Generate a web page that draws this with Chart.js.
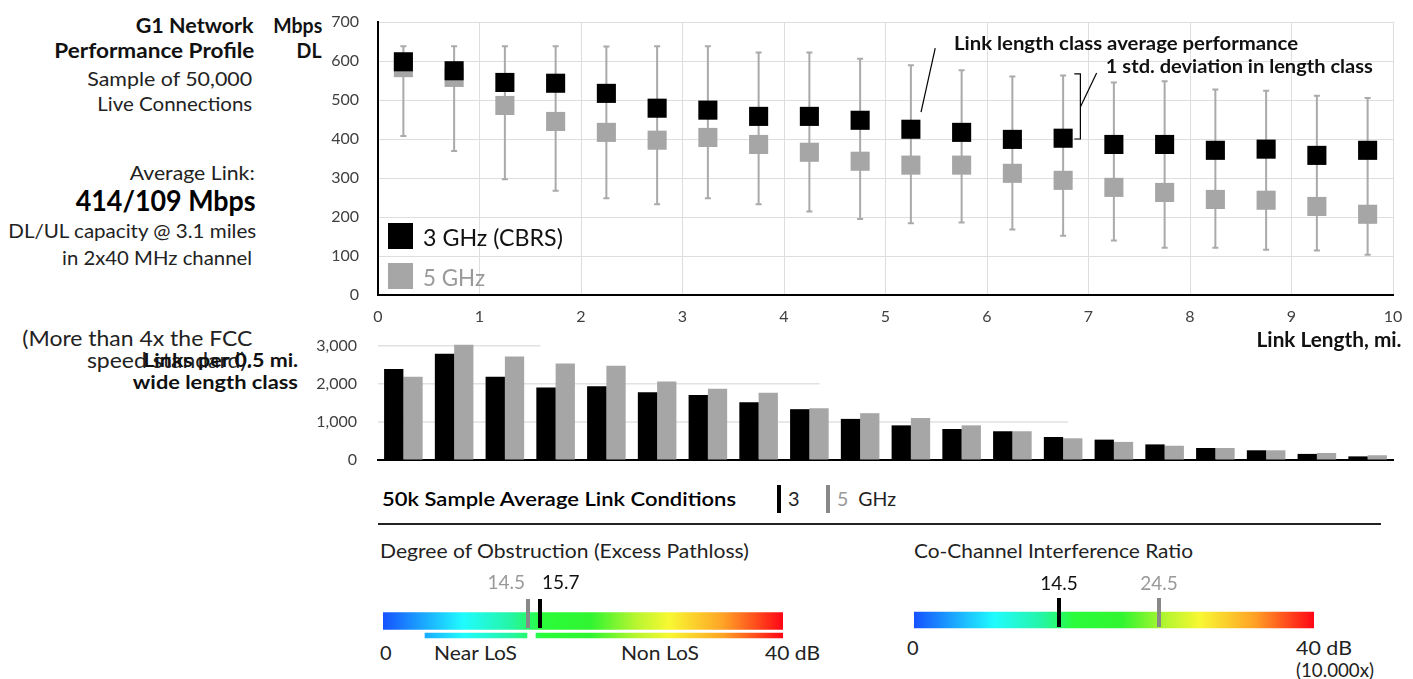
<!DOCTYPE html>
<html>
<head>
<meta charset="utf-8">
<script src="https://cdn.jsdelivr.net/npm/chart.js@4.4.1/dist/chart.umd.min.js"></script>
<style>
body{margin:0;width:1413px;height:679px;overflow:hidden;background:#fff;position:relative;
  font-family:Lato,sans-serif;font-weight:400;color:#222}
.t{position:absolute;white-space:nowrap;line-height:24px;font-size:20px}
.b{font-weight:bold;color:#111}
canvas{position:absolute}
.sq{position:absolute;width:25px;height:26px}
.bar{position:absolute;width:4px;height:28px}
</style>
</head>
<body>
<!-- left panel -->
<div class="t b" data-w="118" style="right:1159px;top:13px">G1 Network</div>
<div class="t b" data-w="200" style="right:1159px;top:38px">Performance Profile</div>
<div class="t" data-w="165" style="right:1161px;top:66px">Sample of 50,000</div>
<div class="t" data-w="155" style="right:1161px;top:91px">Live Connections</div>
<div class="t" data-w="125" style="right:1158px;top:160px">Average Link:</div>
<div class="t b" data-w="180" style="right:1157px;top:183px;font-size:28px;line-height:34px;color:#000">414/109 Mbps</div>
<div class="t" data-w="248" style="right:1157px;top:218px">DL/UL capacity @ 3.1 miles</div>
<div class="t" data-w="190" style="right:1161px;top:245px">in 2x40 MHz channel</div>
<div class="t" data-w="230" style="right:1161px;top:325px;font-size:22px;line-height:26px">(More than 4x the FCC</div>
<div class="t" data-w="165" style="right:1161px;top:347px;font-size:22px;line-height:26px">speed standard).</div>
<div class="t b" data-w="155" style="right:1115px;top:348px;font-size:19px">Links per 0.5 mi.</div>
<div class="t b" data-w="165" style="right:1115px;top:370px;font-size:19px">wide length class</div>
<div class="t b" data-w="49" style="right:1091px;top:13px">Mbps</div>
<div class="t b" data-w="25" style="right:1091px;top:38px">DL</div>

<canvas id="perf" width="1143" height="356" style="left:270px;top:0"></canvas>
<canvas id="links" width="1143" height="140" style="left:270px;top:330px"></canvas>
<div class="t b" data-w="145" style="right:11px;top:327px;font-size:20px">Link Length, mi.</div>

<!-- legend + notes -->
<div class="sq" style="left:388px;top:223px;background:#000"></div>
<div class="t" data-w="140" style="left:423px;top:224px;font-size:23px;line-height:26px;color:#111">3 GHz (CBRS)</div>
<div class="sq" style="left:388px;top:263px;background:#a6a6a6"></div>
<div class="t" data-w="62" style="left:423px;top:264px;font-size:23px;line-height:26px;color:#999">5 GHz</div>
<div class="t b" data-w="344" style="left:954px;top:31px;font-size:19px">Link length class average performance</div>
<div class="t b" data-w="267" style="right:40px;top:54px;font-size:19px">1 std. deviation in length class</div>

<!-- link conditions -->
<div class="t" data-w="354" style="left:382px;top:486px;color:#000;font-weight:600">50k Sample Average Link Conditions</div>
<div class="bar" style="left:777px;top:485px;background:#000"></div>
<div class="t" style="left:788px;top:486px">3</div>
<div class="bar" style="left:826px;top:485px;background:#888"></div>
<div class="t" data-w="59" style="left:837px;top:486px"><span style="color:#999">5</span>&nbsp;&nbsp;GHz</div>
<div style="position:absolute;left:378px;top:523px;width:1003px;height:2px;background:#222"></div>
<div class="t" data-w="369" style="left:380px;top:538px">Degree of Obstruction (Excess Pathloss)</div>
<div class="t" data-w="279" style="left:914px;top:538px">Co-Channel Interference Ratio</div>
<div class="t" style="left:380px;top:640px">0</div>
<div class="t" data-w="83" style="left:434px;top:640px">Near LoS</div>
<div class="t" data-w="78" style="left:621px;top:640px">Non LoS</div>
<div class="t" data-w="55" style="left:765px;top:640px">40 dB</div>
<div class="t" style="left:907px;top:635px">0</div>
<div class="t" data-w="56" style="left:1296px;top:635px">40 dB</div>
<div class="t" data-w="78" style="left:1296px;top:657px">(10.000x)</div>

<canvas id="obst" width="400" height="75" style="left:383px;top:570px"></canvas>
<canvas id="cci" width="400" height="75" style="left:914px;top:570px"></canvas>

<script>
const FONT = "Lato, sans-serif";
const CLEAR = 'rgba(0,0,0,0)';

// link length classes (centre of each 0.5 mi class)
const distances = [0.25,0.75,1.25,1.75,2.25,2.75,3.25,3.75,4.25,4.75,5.25,5.75,6.25,6.75,7.25,7.75,8.25,8.75,9.25,9.75];
// average DL throughput, Mbps
const dl3 = [598,575,545,543,517,479,474,458,458,448,425,417,399,402,386,386,371,374,358,371];
const dl5 = [583,558,486,445,417,397,404,386,366,343,333,333,312,294,276,263,245,243,227,207];
// 1 std. deviation range
const sdHigh = [638,638,638,638,637,638,638,622,622,606,589,576,560,563,545,548,527,524,511,505];
const sdLow = [408,369,297,267,248,233,248,233,214,195,184,186,168,152,140,121,121,116,114,103];
// links per class
const links3 = [2390,2790,2185,1905,1940,1780,1710,1520,1335,1080,910,815,755,605,535,410,315,255,160,95];
const links5 = [2185,3025,2720,2535,2475,2060,1870,1770,1360,1230,1105,910,755,570,475,375,315,255,185,125];
const linkTicks = [0,1000,2000,3000];
// light guide lines in the links chart, and where (in miles) each one stops
const linkGuides = [1000,2000,3000];
const linkGuideEnds = [6.8,4.35,1.6];

// link condition bars (dB, 0-40)
const obstValues = [14.5,15.7];
const obstLabels = ['14.5','15.7'];
const losZones = [[4.2,14.4],[15.3,40]];
const cciValues = [14.5,24.5];
const cciLabels = ['14.5','24.5'];

const BLACK = '#000', GREY = '#a6a6a6';

// squeeze html text to the widths measured on the original
document.querySelectorAll('[data-w]').forEach(el => {
  const w = el.getBoundingClientRect().width;
  el.style.transform = 'scaleX(' + (el.dataset.w / w).toFixed(3) + ')';
  el.style.transformOrigin = el.style.right ? 'right center' : 'left center';
});

const stdBars = {
  id: 'stdBars',
  beforeDatasetsDraw(chart) {
    const {ctx, scales:{x, y}} = chart;
    ctx.save();
    ctx.strokeStyle = '#aaaaaa';
    ctx.lineWidth = 2;
    distances.forEach((d, i) => {
      const px = x.getPixelForValue(d);
      const top = y.getPixelForValue(sdHigh[i]), bot = y.getPixelForValue(sdLow[i]);
      ctx.beginPath();
      ctx.moveTo(px, top); ctx.lineTo(px, bot);
      ctx.moveTo(px-3, top); ctx.lineTo(px+3, top);
      ctx.moveTo(px-3, bot); ctx.lineTo(px+3, bot);
      ctx.stroke();
    });
    ctx.restore();
  }
};

// leader lines for the two notes
const notes = {
  id: 'notes',
  afterDraw(chart) {
    const {ctx, scales:{x, y}} = chart;
    const P = (a, b) => [x.getPixelForValue(a), y.getPixelForValue(b)];
    ctx.save();
    ctx.strokeStyle = '#000';
    ctx.lineWidth = 1.2;
    let a = P(5.49, 633), b = P(5.35, 469);
    ctx.beginPath(); ctx.moveTo(...a); ctx.lineTo(...b); ctx.stroke();
    // bracket
    const bx1 = x.getPixelForValue(6.86), bx2 = x.getPixelForValue(6.92);
    const by1 = y.getPixelForValue(567), by2 = y.getPixelForValue(400);
    ctx.beginPath();
    ctx.moveTo(bx1, by1); ctx.lineTo(bx2, by1); ctx.lineTo(bx2, by2); ctx.lineTo(bx1, by2);
    ctx.stroke();
    a = P(6.92, 482); b = P(7.08, 569);
    ctx.beginPath(); ctx.moveTo(...a); ctx.lineTo(...b); ctx.stroke();
    ctx.restore();
  }
};

const tickFont = {family:FONT, size:16};

new Chart(document.getElementById('perf'), {
  type: 'scatter',
  data: {
    datasets: [
      {label:'3 GHz (CBRS)', data: distances.map((d,i)=>({x:d, y:dl3[i]})),
        pointStyle:'rect', pointRadius:13.5, backgroundColor:BLACK, borderWidth:0},
      {label:'5 GHz', data: distances.map((d,i)=>({x:d, y:dl5[i]})),
        pointStyle:'rect', pointRadius:13.5, backgroundColor:GREY, borderWidth:0}
    ]
  },
  options: {
    responsive:false, animation:false,
    layout:{padding:{top:22, right:20, left:0, bottom:0}},
    plugins:{legend:{display:false}, tooltip:{enabled:false}},
    scales:{
      x:{type:'linear', min:0, max:10,
        grid:{color:'#dedede', tickLength:12, tickColor:CLEAR},
        border:{color:'#000', width:2},
        ticks:{stepSize:1, padding:0, color:'#404040', font:tickFont},
        afterFit(s){ s.height = 61; }},
      y:{min:0, max:700,
        grid:{color:'#dedede', tickLength:19, tickColor:CLEAR},
        border:{color:'#000', width:2},
        ticks:{stepSize:100, padding:0, color:'#404040', font:tickFont},
        afterFit(s){ s.width = 108; }}
    }
  },
  plugins:[stdBars, notes]
});

const guides = {
  id: 'guides',
  beforeDatasetsDraw(chart) {
    const {ctx, chartArea:a, scales:{y}} = chart;
    ctx.save();
    ctx.strokeStyle = '#e2e2e2';
    ctx.lineWidth = 1.5;
    linkGuides.forEach((v, i) => {
      const py = y.getPixelForValue(v);
      ctx.beginPath();
      ctx.moveTo(a.left, py);
      ctx.lineTo(a.left + linkGuideEnds[i] / 10 * (a.right - a.left), py);
      ctx.stroke();
    });
    ctx.restore();
  }
};

new Chart(document.getElementById('links'), {
  type: 'bar',
  data: {
    labels: distances,
    datasets: [
      {label:'3 GHz', data:links3, backgroundColor:BLACK},
      {label:'5 GHz', data:links5, backgroundColor:GREY}
    ]
  },
  options: {
    responsive:false, animation:false,
    categoryPercentage:0.76, barPercentage:1,
    layout:{padding:{top:12, right:20, left:0, bottom:10}},
    plugins:{legend:{display:false}, tooltip:{enabled:false}},
    scales:{
      x:{grid:{display:false, drawTicks:false}, ticks:{display:false},
        border:{color:'#000', width:2}},
      y:{min:0, max:3100,
        grid:{color:CLEAR, drawOnChartArea:false, tickLength:21, tickColor:CLEAR},
        border:{display:false},
        ticks:{padding:0, color:'#404040', font:tickFont},
        afterBuildTicks(s){ s.ticks = linkTicks.map(v => ({value:v})); },
        afterFit(s){ s.width = 108; }}
    }
  },
  plugins:[guides]
});

const gradStops = [[0,'#1652ff'],[0.2,'#20fbff'],[0.32,'#25f5a5'],[0.4,'#2afc3a'],[0.52,'#30f530'],
  [0.63,'#b5f530'],[0.715,'#f8f832'],[0.85,'#ffa326'],[1,'#ff0515']];
function spectrum(ctx) {
  const {chart} = ctx;
  const a = chart.chartArea;
  if (!a) return '#ccc';
  const g = chart.ctx.createLinearGradient(a.left, 0, a.right, 0);
  gradStops.forEach(s => g.addColorStop(s[0], s[1]));
  return g;
}

function markerLabels(values, labels, colors, aligns, offsets, labelY) {
  return {
    id: 'markerLabels',
    afterDatasetsDraw(chart) {
      const {ctx, scales:{x, y}} = chart;
      ctx.save();
      ctx.font = '19px ' + FONT;
      ctx.textBaseline = 'middle';
      values.forEach((v, i) => {
        ctx.fillStyle = colors[i];
        ctx.textAlign = aligns[i];
        ctx.fillText(labels[i], x.getPixelForValue(v) + offsets[i], y.getPixelForValue(labelY));
      });
      ctx.restore();
    }
  };
}

function conditionChart(id, values, labels, colors, aligns, offsets, opt) {
  const datasets = [
    {type:'bar', indexAxis:'y', grouped:false, order:2, data:[{x:[0,40], y:opt.barY}],
      barThickness:opt.barH, backgroundColor:spectrum}
  ];
  (opt.zones || []).forEach(z => datasets.push(
    {type:'bar', indexAxis:'y', grouped:false, order:2, data:[{x:z, y:opt.zoneY}],
      barThickness:5, backgroundColor:spectrum}));
  values.forEach((v, i) => datasets.push(
    {type:'line', order:1, data:[{x:v, y:opt.mTop},{x:v, y:opt.mBot}], borderColor:colors[i],
      borderWidth:4, pointRadius:0, borderCapStyle:'butt'}));
  new Chart(document.getElementById(id), {
    type:'bar',
    data:{datasets},
    options:{
      responsive:false, animation:false,
      layout:{padding:0},
      plugins:{legend:{display:false}, tooltip:{enabled:false}},
      scales:{
        x:{type:'linear', min:0, max:40, display:false, offset:false, grid:{offset:false}},
        y:{type:'linear', min:0, max:75, reverse:true, display:false, offset:false, grid:{offset:false}}
      }
    },
    plugins:[markerLabels(values, labels, colors.map(c => c === BLACK ? '#111' : '#999'), aligns, offsets, opt.labelY)]
  });
}

conditionChart('obst', obstValues, obstLabels, ['#888', BLACK], ['right','left'], [-3, 2],
  {barY:51, barH:17, zoneY:65.5, zones:losZones, mTop:29, mBot:58, labelY:13});
conditionChart('cci', cciValues, cciLabels, [BLACK, '#888'], ['center','center'], [0, 0],
  {barY:50, barH:16, mTop:28, mBot:57, labelY:14});
</script>
</body>
</html>
